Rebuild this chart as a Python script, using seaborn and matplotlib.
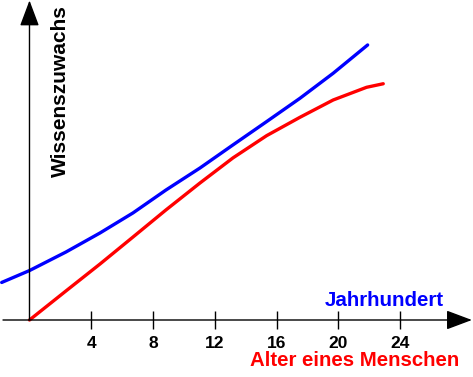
import numpy as np
import pandas as pd
import matplotlib
matplotlib.use("Agg")
import matplotlib.pyplot as plt
import seaborn as sns

# curve values (x in "years/centuries", y arbitrary growth)
blue_x = [-1.80, 0.0, 2.36, 4.56, 6.70, 8.83, 11.04, 13.17, 15.35, 17.51, 19.66, 21.89]
blue_y = [2.43, 3.20, 4.40, 5.63, 6.93, 8.41, 9.84, 11.33, 12.84, 14.35, 15.97, 17.80]
red_x = [0.0, 2.36, 4.56, 6.70, 8.83, 11.04, 13.17, 15.35, 17.51, 19.66, 21.82, 22.90]
red_y = [0.0, 1.88, 3.62, 5.37, 7.12, 8.87, 10.49, 11.93, 13.12, 14.24, 15.06, 15.29]
tick_values = [4, 8, 12, 16, 20, 24]

df = pd.concat([
    pd.DataFrame({'x': blue_x, 'y': blue_y, 'curve': 'Jahrhundert'}),
    pd.DataFrame({'x': red_x, 'y': red_y, 'curve': 'Alter'}),
])

sns.set_theme(style='white')
plt.rcParams['font.family'] = ['Liberation Sans', 'DejaVu Sans']

fig = plt.figure(figsize=(4.73, 3.77), dpi=100)
ax = fig.add_axes([0, 0, 1, 1])
ax.set_xlim(-1.909, 28.71)
ax.set_ylim(-3.689, 20.71)
ax.axis('off')

# axes with arrow heads
arrow = dict(arrowstyle='-|>,head_length=0.8,head_width=0.3', color='black',
             lw=1, mutation_scale=20, shrinkA=0, shrinkB=0)
ax.annotate('', xy=(28.64, 0), xytext=(-1.715, 0), arrowprops=arrow)
ax.annotate('', xy=(0, 20.68), xytext=(0, 0), arrowprops=arrow)

# ticks crossing the x-axis
ax.vlines(tick_values, -0.58, 0.58, color='black', lw=1)
for t in tick_values:
    ax.text(t, -1.52, str(t), ha='center', va='center', fontsize=12.5,
            fontweight='bold', color='black')

sns.lineplot(data=df, x='x', y='y', hue='curve', sort=False, ax=ax,
             palette={'Jahrhundert': '#0000ff', 'Alter': '#ff0000'},
             linewidth=2.4, legend=False, solid_joinstyle='round',
             solid_capstyle='round')

ax.text(23.0, 1.27, 'Jahrhundert', ha='center', va='center', fontsize=14.8,
        fontweight='bold', color='#0000ff')
ax.text(27.8, -2.65, 'Alter eines Menschen', ha='right', va='center', fontsize=14.7,
        fontweight='bold', color='#ff0000')
ax.text(2.0, 20.39, 'Wissenszuwachs', ha='center', va='top', rotation=90,
        fontsize=15, fontweight='bold', color='black')

fig.savefig('out.png', dpi=100)
